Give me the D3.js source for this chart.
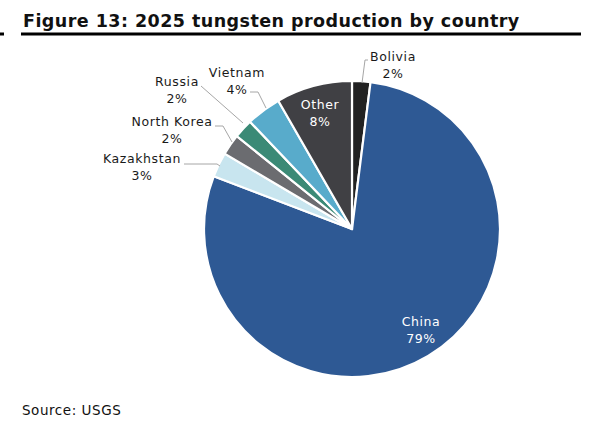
<!DOCTYPE html>
<html>
<head>
<meta charset="utf-8">
<script src="https://cdn.jsdelivr.net/npm/d3@7"></script>
<style>
  body { margin: 0; background: #fff; }
  svg text { font-family: "DejaVu Sans", Verdana, sans-serif; }
</style>
</head>
<body>
<svg id="chart" width="589" height="428"></svg>
<script>
// data, clockwise from 12 o'clock
var countries = ["Bolivia", "China", "Kazakhstan", "North Korea", "Russia", "Vietnam", "Other"];
var shares = [2.0, 78.8, 2.7, 2.3, 2.1, 3.8, 8.3];
var shareLabels = ["2%", "79%", "3%", "2%", "2%", "4%", "8%"];
var colours = ["#222222", "#2e5994", "#c8e5ef", "#6b6c70", "#3b8a76", "#58abcb", "#404044"];

var svg = d3.select("#chart");

// title + rule
svg.append("text")
    .attr("x", 23).attr("y", 27)
    .attr("font-size", 17.5).attr("font-weight", "bold")
    .attr("letter-spacing", 0.45)
    .attr("fill", "#111")
    .text("Figure 13: 2025 tungsten production by country");
svg.append("rect").attr("x", 21).attr("y", 32.5).attr("width", 560).attr("height", 3).attr("fill", "#000");
svg.append("rect").attr("x", 0).attr("y", 32.5).attr("width", 4).attr("height", 3).attr("fill", "#000");

var cx = 352, cy = 229, r = 148;
var g = svg.append("g").attr("transform", "translate(" + cx + "," + cy + ")");

var rows = countries.map(function (c, i) {
    return { name: c, value: shares[i], label: shareLabels[i], colour: colours[i] };
});

var pie = d3.pie().sort(null).value(function (d) { return d.value; });
var arc = d3.arc().innerRadius(0).outerRadius(r);
var arcs = pie(rows);

g.selectAll("path").data(arcs).enter().append("path")
    .attr("d", arc)
    .attr("fill", function (d) { return d.data.colour; })
    .attr("stroke", "#fff")
    .attr("stroke-width", 2.2)
    .attr("stroke-linejoin", "round");

// label positions (page coords) and leader lines
var labelPos = {
    "Bolivia":    { x: 393, y: 61, lead: [[368, 60], [365, 60], [362, 83]] },
    "China":      { x: 421, y: 326, inside: true },
    "Kazakhstan": { x: 142, y: 163, lead: [[184, 164], [217, 164], [220, 166]] },
    "North Korea":{ x: 172, y: 126, lead: [[215, 126], [223, 126], [232, 142]] },
    "Russia":     { x: 177, y: 86, lead: [[201, 86], [243, 123]] },
    "Vietnam":    { x: 237, y: 77, lead: [[250, 92], [258, 92], [266, 108]] },
    "Other":      { x: 320, y: 109, inside: true }
};

var line = d3.line();
arcs.forEach(function (a) {
    var p = labelPos[a.data.name];
    if (p.lead) {
        svg.append("path")
            .attr("d", line(p.lead))
            .attr("fill", "none")
            .attr("stroke", "#a6a6a6")
            .attr("stroke-width", 1);
    }
    var t = svg.append("text")
        .attr("text-anchor", "middle")
        .attr("font-size", 12.5)
        .attr("letter-spacing", 0.6)
        .attr("fill", p.inside ? "#fff" : "#1a1a1a");
    t.append("tspan").attr("x", p.x).attr("y", p.y).text(a.data.name);
    t.append("tspan").attr("x", p.x).attr("y", p.y + 16.5).text(a.data.label);
});

svg.append("text")
    .attr("x", 22).attr("y", 415)
    .attr("font-size", 13.5)
    .attr("letter-spacing", 0.55)
    .attr("fill", "#111")
    .text("Source: USGS");
</script>
</body>
</html>
